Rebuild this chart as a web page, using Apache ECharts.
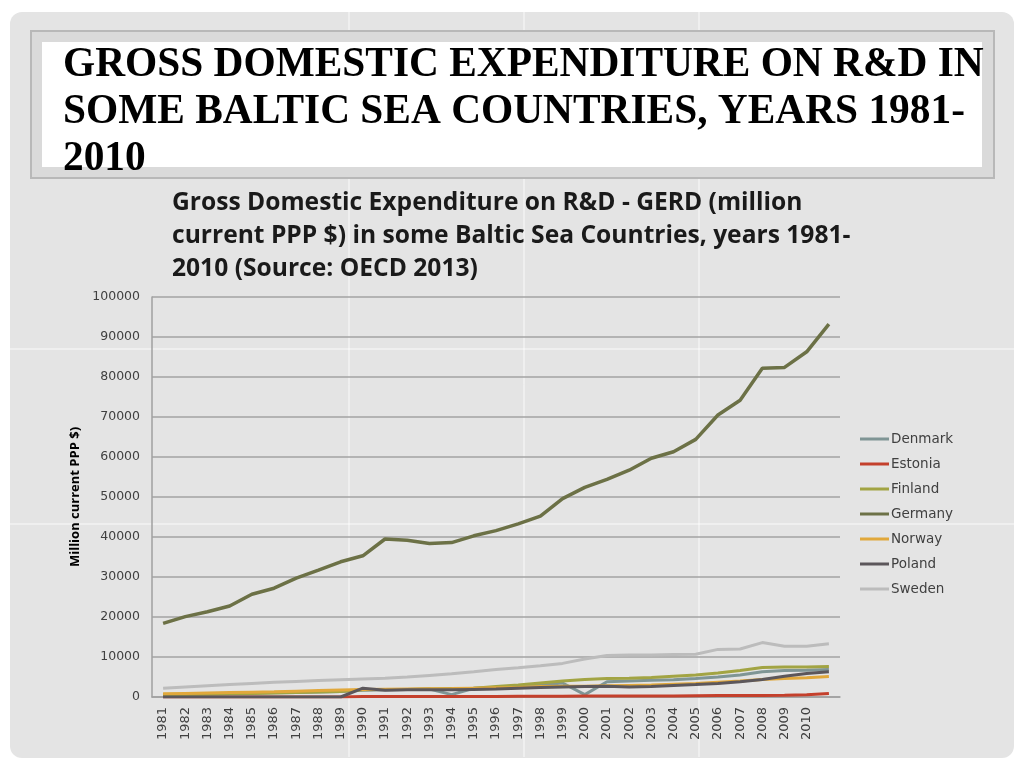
<!DOCTYPE html>
<html>
<head>
<meta charset="utf-8">
<script src="https://cdn.jsdelivr.net/npm/echarts@6/dist/echarts.min.js"></script>
<style>
html,body{margin:0;padding:0;background:#ffffff;}
#chart{width:1024px;height:768px;}
</style>
</head>
<body>
<div id="chart"></div>
<script>
// ---- data ----
const years = ['1981','1982','1983','1984','1985','1986','1987','1988','1989','1990',
  '1991','1992','1993','1994','1995','1996','1997','1998','1999','2000',
  '2001','2002','2003','2004','2005','2006','2007','2008','2009','2010','2011'];
const yTicks = [0,10000,20000,30000,40000,50000,60000,70000,80000,90000,100000];
const seriesNames = ['Denmark','Estonia','Finland','Germany','Norway','Poland','Sweden'];
const denmark = [650,700,750,850,950,1050,1150,1250,1400,1700,1800,1900,2000,600,2200,2400,2700,3000,3500,600,3800,4000,4200,4300,4600,5000,5500,6300,6600,6700,6900];
const estonia = [0,0,0,0,0,0,0,0,0,100,100,100,100,100,150,150,200,200,200,250,250,250,250,250,300,350,400,400,450,550,900];
const finland = [600,650,700,800,900,1000,1100,1250,1400,1800,1900,1900,2000,2100,2200,2600,3000,3500,4000,4400,4600,4700,4900,5200,5500,6000,6600,7400,7500,7500,7600];
const germany = [18400,20100,21300,22750,25700,27200,29700,31700,33800,35300,39500,39200,38400,38600,40300,41600,43300,45200,49600,52400,54400,56700,59700,61300,64400,70500,74200,82200,82400,86300,93200];
const norway = [800,900,1000,1100,1200,1300,1450,1600,1750,1900,1950,2000,2050,2100,2200,2300,2400,2600,2700,2700,2800,2900,3000,3200,3400,3700,4000,4400,4600,4800,5100];
const poland = [0,0,0,0,0,0,0,0,0,2200,1700,1800,1800,1800,1900,2000,2200,2400,2500,2600,2700,2500,2600,2900,3100,3400,3800,4400,5200,5900,6300];
const sweden = [2200,2500,2800,3100,3400,3700,3900,4100,4300,4500,4700,5000,5400,5800,6300,6900,7300,7800,8400,9500,10400,10500,10500,10600,10700,11900,12000,13600,12700,12700,13300];
const seriesData = [denmark, estonia, finland, germany, norway, poland, sweden];
const seriesColors = ['#7f9595','#c4402c','#a2a443','#6c7146','#e1a83b','#5c575b','#bcbcbc'];
const titleLines = ['GROSS DOMESTIC EXPENDITURE ON R&D IN','SOME BALTIC SEA COUNTRIES, YEARS 1981-','2010'];
const subtitleLines = ['Gross Domestic Expenditure on R&D - GERD (million','current PPP $) in some Baltic Sea Countries, years 1981-','2010 (Source: OECD 2013)'];
const yAxisName = 'Million current PPP $)';

const chart = echarts.init(document.getElementById('chart'), null, {renderer:'canvas'});

const graphics = [
  {type:'rect', z:-10, shape:{x:10,y:12,width:1004,height:746,r:12}, style:{fill:'#e4e4e4'}},
  // artifact white lines
  {type:'line', z:-9, shape:{x1:349,y1:12,x2:349,y2:757}, style:{stroke:'rgba(255,255,255,0.85)',lineWidth:1}},
  {type:'line', z:-9, shape:{x1:524,y1:12,x2:524,y2:757}, style:{stroke:'rgba(255,255,255,0.85)',lineWidth:1}},
  {type:'line', z:-9, shape:{x1:699,y1:12,x2:699,y2:757}, style:{stroke:'rgba(255,255,255,0.85)',lineWidth:1}},
  {type:'line', z:-9, shape:{x1:10,y1:349,x2:1014,y2:349}, style:{stroke:'rgba(255,255,255,0.85)',lineWidth:1}},
  {type:'line', z:-9, shape:{x1:10,y1:524,x2:1014,y2:524}, style:{stroke:'rgba(255,255,255,0.85)',lineWidth:1}},
  // title frame
  {type:'rect', z:-8, shape:{x:31,y:31,width:963,height:147}, style:{fill:'#dadada',stroke:'#b8b8b8',lineWidth:2}},
  {type:'rect', z:-7, shape:{x:42,y:42,width:940,height:125}, style:{fill:'#ffffff'}}
];
titleLines.forEach((t,i)=>{
  graphics.push({type:'text', z:5, x:63, y:86+i*47, scaleX:0.985,
    style:{text:t, fill:'#000000', font:'bold 42px "Liberation Serif"', textVerticalAlign:'bottom', textAlign:'left'}});
});
subtitleLines.forEach((t,i)=>{
  graphics.push({type:'text', z:5, x:172, y:203+i*33,
    style:{text:t, fill:'#1a1a1a', font:'bold 24.6px "Open Sans"', textVerticalAlign:'middle', textAlign:'left'}});
});

const labelFont = 'DejaVu Sans';
chart.setOption({
  animation:false,
  backgroundColor:'#ffffff',
  graphic: graphics,
  grid:{left:152, right:184, top:297, bottom:71, containLabel:false},
  legend:{
    orient:'vertical', left:855, top:426, itemWidth:29, itemHeight:3, itemGap:9,
    icon:'rect', data:seriesNames,
    textStyle:{fontFamily:labelFont, fontSize:13.5, color:'#404040', lineHeight:16, padding:[0,0,0,-3]}
  },
  xAxis:{
    type:'category', data:years, boundaryGap:true,
    axisLine:{show:true, lineStyle:{color:'#a0a0a0', width:1.5}},
    axisTick:{show:false},
    axisLabel:{rotate:90, fontFamily:labelFont, fontSize:13, color:'#404040', margin:10, interval:0,
      formatter:(v,idx)=> idx===years.length-1 ? '' : v}
  },
  yAxis:{
    type:'value', min:yTicks[0], max:yTicks[yTicks.length-1], interval:yTicks[1]-yTicks[0],
    name:yAxisName, nameLocation:'middle', nameGap:53, nameRotate:90,
    nameTextStyle:{fontFamily:'Open Sans', fontWeight:'bold', fontSize:13, color:'#000'},
    axisLine:{show:true, lineStyle:{color:'#a0a0a0', width:1.5}},
    axisTick:{show:false},
    axisLabel:{fontFamily:labelFont, fontSize:12.5, color:'#404040', margin:12, formatter:(v)=>String(v)},
    splitLine:{lineStyle:{color:'#a3a3a3', width:1.5}}
  },
  series: seriesNames.map((n,i)=>({
    name:n, type:'line', data:seriesData[i], symbol:'none', showSymbol:false,
    color:seriesColors[i],
    lineStyle:{width: n==='Germany'?3.5:3, color:seriesColors[i]},
    z: 3+i
  }))
});
</script>
</body>
</html>
